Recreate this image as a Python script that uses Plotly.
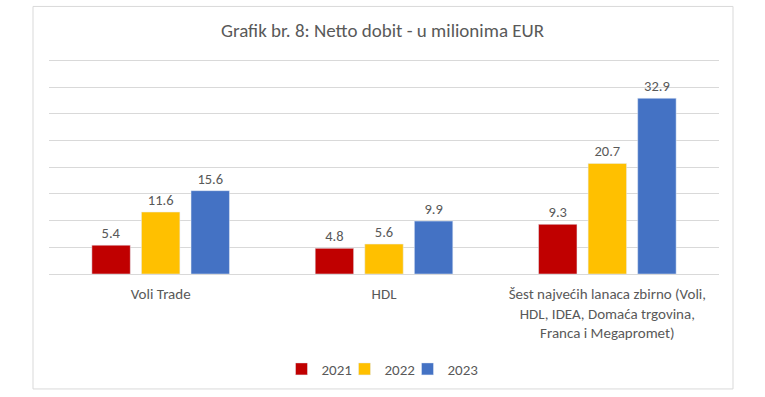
import plotly.graph_objects as go

categories = [
    "Voli Trade",
    "HDL",
    "Šest najvećih lanaca zbirno (Voli,<br>HDL, IDEA, Domaća trgovina,<br>Franca i Megapromet)",
]
years = ["2021", "2022", "2023"]
values_2021 = [5.4, 4.8, 9.3]
values_2022 = [11.6, 5.6, 20.7]
values_2023 = [15.6, 9.9, 32.9]
colors = ["#C00000", "#FFC000", "#4472C4"]

FONT = "Carlito, Calibri, Lato, sans-serif"
GRAY = "#595959"

fig = go.Figure()
for i, (name, vals, col) in enumerate(zip(years, [values_2021, values_2022, values_2023], colors)):
    fig.add_trace(go.Bar(
        x=categories, y=vals, name=name, marker_color=col,
        text=[f"{v:.1f}" for v in vals], textposition="outside",
        textfont=dict(size=14.5, color=GRAY, family=FONT), cliponaxis=False,
        legendwidth=(18 if i < 2 else 34),
    ))

W, H = 765, 397
L, R, T, B = 49, 46, 55, 121
pw, ph = W - L - R, H - T - B

def px_x(x):
    return (x - L) / pw

def px_y(y):
    return (H - B - y) / ph

fig.update_layout(
    width=W, height=H,
    margin=dict(l=L, r=R, t=T, b=B),
    paper_bgcolor="white", plot_bgcolor="white",
    font=dict(family=FONT, color=GRAY, size=15),
    title=dict(text="Grafik br. 8: Netto dobit - u milionima EUR",
               x=0.5, xanchor="center", y=1 - 30 / H, yanchor="middle",
               font=dict(size=19, color=GRAY, family=FONT)),
    barmode="group", bargap=0.334, bargroupgap=0.225,
    showlegend=True,
    legend=dict(orientation="h", x=0.5, xanchor="center", y=px_y(372), yanchor="middle",
                font=dict(size=15, color=GRAY, family=FONT), itemwidth=30,
                bgcolor="rgba(0,0,0,0)"),
    xaxis=dict(showgrid=False, showline=False, ticks="", ticklabelstandoff=9,
               tickfont=dict(size=15, color=GRAY)),
    yaxis=dict(range=[0, 41], dtick=5, showgrid=True, gridcolor="#D9D9D9", gridwidth=1,
               showticklabels=False, zeroline=True, zerolinecolor="#D9D9D9", zerolinewidth=1),
    shapes=[dict(type="rect", xref="paper", yref="paper",
                 x0=px_x(33), x1=px_x(733), y0=px_y(392), y1=px_y(6),
                 line=dict(color="#D9D9D9", width=1), fillcolor="rgba(0,0,0,0)", layer="below")],
)

fig.write_html("out.html", config={"displayModeBar": False},
               post_script="document.body.style.margin='0px';")
